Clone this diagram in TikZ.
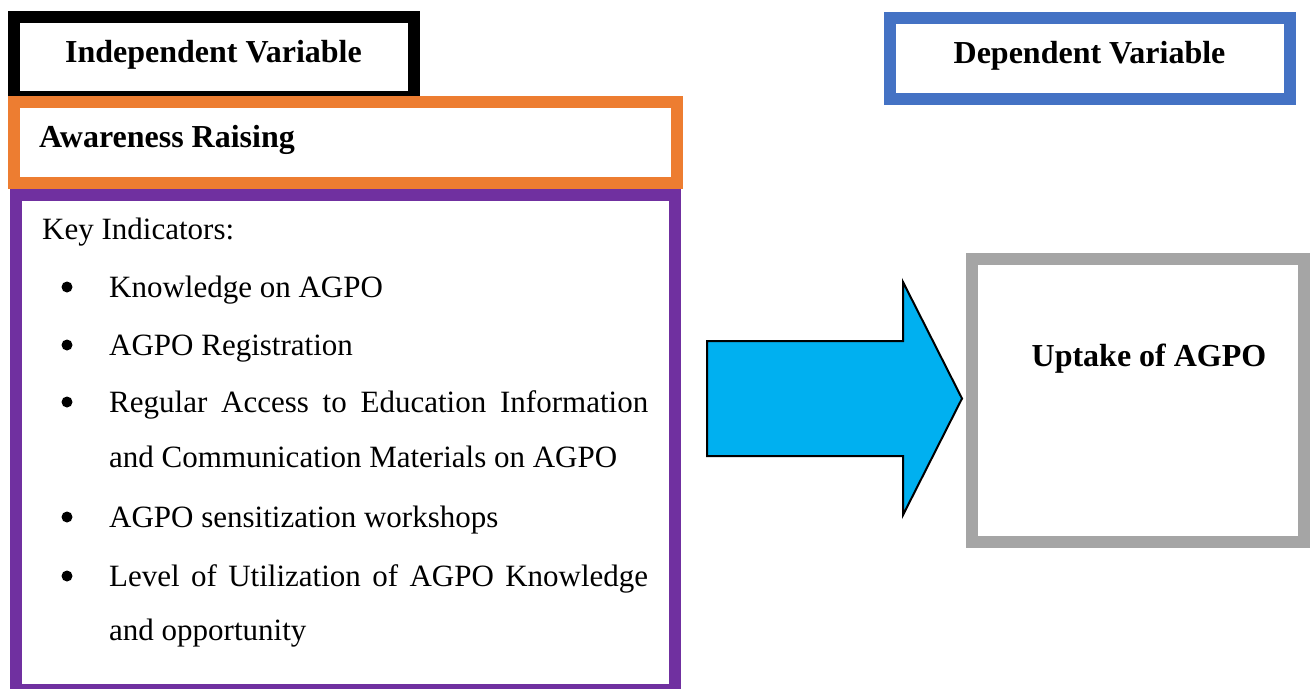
\documentclass[tikz,border=0pt]{standalone}
\usepackage{fontspec}
\setmainfont{Liberation Serif}
\definecolor{boxorange}{HTML}{ED7D31}
\definecolor{boxblue}{HTML}{4472C4}
\definecolor{boxpurple}{HTML}{7030A0}
\definecolor{boxgrey}{HTML}{A5A5A5}
\definecolor{arrowcyan}{HTML}{00B0F0}
\tikzset{
	frame/.style={line width=12pt},
	heading/.style={font=\fontsize{32}{38}\selectfont\bfseries, inner sep=0pt, anchor=base},
	entry/.style={font=\fontsize{31}{37}\selectfont, inner sep=0pt, anchor=base west},
	dot/.style={fill=black, circle, inner sep=0pt, minimum size=11pt}
}
\begin{document}
\begin{tikzpicture}[x=1pt, y=-1pt, line join=miter]
	\useasboundingbox (0,0) rectangle (1311,688);
	%%%%%%%%%%%%%%%%%%%%%%%%%%%%%%%%%
	\coordinate (S1) at (707,341);
	\coordinate (S2) at (903,341);
	\coordinate (H1) at (903,282);
	\coordinate (T) at (962,398.5);
	\coordinate (H2) at (903,515);
	\coordinate (S3) at (903,456);
	\coordinate (S4) at (707,456);
	%%%%%%%%%%%%%%%%%%%%%%%%%%%%%%%%%
	\draw[frame, black] (14,16.5) rectangle (414,97);
	\draw[frame, boxorange] (14,102) rectangle (677,182.5);
	\draw[frame, boxpurple] (16,194.5) rectangle (675,690);
	\draw[frame, boxblue] (890,18) rectangle (1290,99);
	\draw[frame, boxgrey] (972,259) rectangle (1304,541.5);
	\filldraw[fill=arrowcyan, draw=black, line width=2pt] (S1) -- (S2) -- (H1) -- (T) -- (H2) -- (S3) -- (S4) -- cycle;
	%%%%%%%%%%%%%%%%%%%%%%%%%%%%%%%%%
	\node[heading] (indep) at (213.5,62) {Independent Variable};
	\node[heading] (dep) at (1089.5,63) {Dependent Variable};
	\node[heading] (uptake) at (1149,366) {Uptake of AGPO};
	\node[heading, anchor=base west] (aware) at (39,147) {Awareness Raising};
	%%%%%%%%%%%%%%%%%%%%%%%%%%%%%%%%%
	\node[entry] (key) at (42,239) {Key Indicators:};
	\node[entry] (i1) at (109,297) {Knowledge on AGPO};
	\node[entry] (i2) at (109,355) {AGPO Registration};
	\node[entry] (i3) at (109,412) {\makebox[539pt][s]{Regular Access to Education Information}};
	\node[entry] (i3b) at (109,467) {and Communication Materials on AGPO};
	\node[entry] (i4) at (109,527) {AGPO sensitization workshops};
	\node[entry] (i5) at (109,586) {\makebox[539pt][s]{Level of Utilization of AGPO Knowledge}};
	\node[entry] (i5b) at (109,640) {and opportunity};
	%%%%%%%%%%%%%%%%%%%%%%%%%%%%%%%%%
	\node[dot] (d1) at (67,287) {};
	\node[dot] (d2) at (67,345) {};
	\node[dot] (d3) at (67,402) {};
	\node[dot] (d4) at (67,517) {};
	\node[dot] (d5) at (67,576) {};
\end{tikzpicture}
\end{document}
